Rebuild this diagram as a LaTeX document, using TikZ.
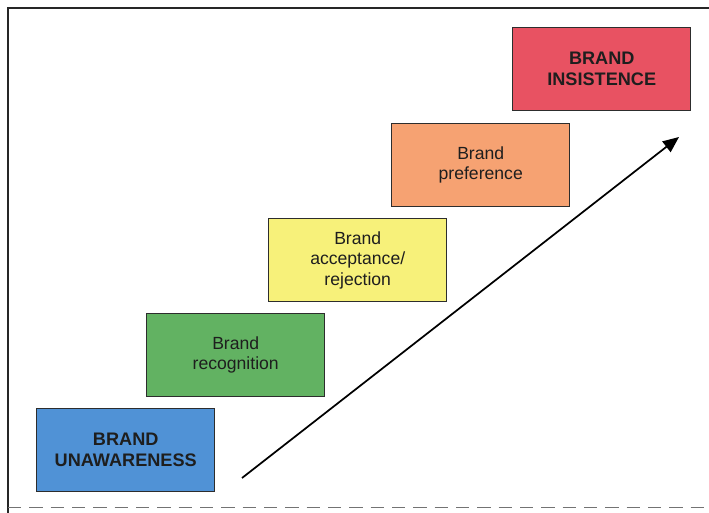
\documentclass[tikz,border=0pt]{standalone}
\usepackage{fontspec}
\setmainfont{Liberation Sans}
\usetikzlibrary{arrows.meta}
\definecolor{stageblue}{RGB}{80,146,214}
\definecolor{stagegreen}{RGB}{98,178,98}
\definecolor{stageyellow}{RGB}{247,241,122}
\definecolor{stageorange}{RGB}{246,162,114}
\definecolor{stagered}{RGB}{232,82,98}
\definecolor{boxline}{RGB}{45,45,45}
\definecolor{inktext}{RGB}{30,30,30}
\begin{document}
\begin{tikzpicture}[x=0.75pt,y=-0.75pt,
  stagebox/.style={draw=boxline,line width=1.1pt,minimum width=133.5pt,minimum height=62pt,
    inner sep=0pt,align=center,text=inktext,anchor=north west,
    font=\fontsize{13.2}{15.3}\selectfont},
  boldstage/.style={stagebox,font=\fontsize{13.6}{16}\selectfont\bfseries},
  framerule/.style={line width=0.8pt,draw=black!85}]
\useasboundingbox (0,0) rectangle (709,513);
\fill[white] (0,0) rectangle (709,513);
% frame lines
\draw[framerule] (8,513) -- (8,8) -- (709,8);
\draw[line width=0.6pt,draw=black!55,dash pattern=on 10pt off 6pt] (8,507) -- (709,507);
% staircase of stages
\node[boldstage,fill=stageblue]   (unaware) at (36,408)  {BRAND\\UNAWARENESS};
\node[stagebox,fill=stagegreen]   (recog)   at (146,313) {Brand\\recognition};
\node[stagebox,fill=stageyellow]  (accept)  at (268,218) {Brand\\acceptance/\\rejection};
\node[stagebox,fill=stageorange]  (pref)    at (391,123) {Brand\\preference};
\node[boldstage,fill=stagered]    (insist)  at (512,27)  {BRAND\\INSISTENCE};
% progression arrow
\coordinate (arrowstart) at (242,478);
\coordinate (arrowend) at (679,137);
\draw[line width=1.3pt,-{Triangle[length=12pt,width=10pt]}] (arrowstart) -- (arrowend);
\end{tikzpicture}
\end{document}
